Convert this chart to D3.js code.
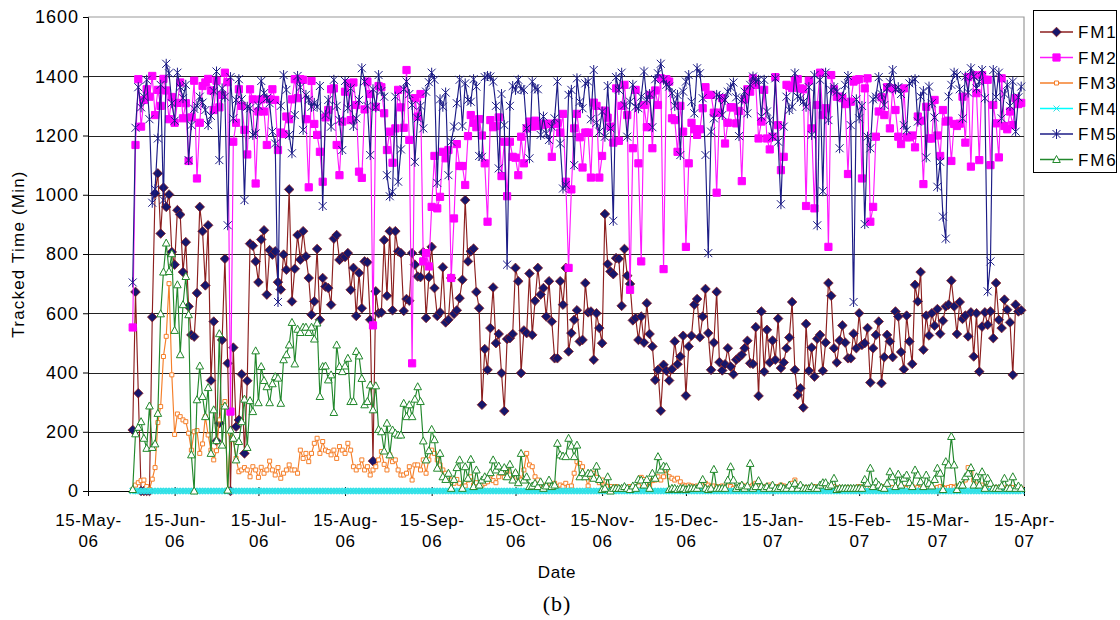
<!DOCTYPE html>
<html>
<head>
<meta charset="utf-8">
<script src="https://cdnjs.cloudflare.com/ajax/libs/d3/7.8.5/d3.min.js"></script>
<style>
body { margin: 0; background: #fff; }
svg { font-family: "Liberation Sans", Arial, sans-serif; }
</style>
</head>
<body>
<div id="chart"></div>
<script>
// one value per day, starting on firstDay
var firstDay = "2006-05-31";
var seriesNames = ["FM1", "FM2", "FM3", "FM4", "FM5", "FM6"];

var fm1 = [
    206,672,330,0,0,0,0,587,1004,1072,
    869,1024,959,1001,807,764,948,933,739,840,
    623,527,521,668,959,877,694,897,373,572,
    169,229,510,784,431,0,484,217,240,394,
    127,372,835,828,775,705,849,880,663,813,
    798,809,705,680,798,747,1018,640,750,864,
    781,877,792,719,595,640,817,578,719,690,
    685,629,852,864,780,790,790,803,679,753,
    591,736,617,775,772,578,101,674,600,603,
    847,659,877,610,877,809,803,608,648,642,
    803,764,724,722,806,584,722,824,685,591,
    603,755,569,578,719,598,610,651,713,982,
    775,809,818,672,617,291,479,409,550,687,
    499,530,398,270,513,516,530,753,708,398,
    542,533,734,527,642,753,663,685,589,708,
    572,448,448,708,629,753,471,533,578,610,
    505,510,702,603,606,443,600,550,499,935,
    766,741,732,786,784,625,817,727,699,576,
    584,510,589,501,634,530,488,375,409,271,
    426,406,373,411,505,428,454,524,322,488,
    524,629,648,519,589,682,533,409,501,672,
    435,407,428,482,420,394,443,451,460,482,
    507,431,429,553,321,606,403,544,434,508,
    443,582,415,434,482,518,638,409,324,347,
    282,564,406,484,386,514,527,406,501,702,
    659,482,434,508,559,501,448,448,531,482,
    600,493,499,550,366,482,527,572,364,452,
    527,505,452,606,589,469,411,592,505,429,
    696,640,739,477,592,525,600,558,614,531,
    575,623,629,710,623,530,638,581,592,522,
    603,454,600,403,555,603,561,606,516,702,
    578,550,646,612,569,392,629,606,610
];

var fm2 = [
    552,1168,1390,1230,1320,1356,1331,1401,1269,1354,
    1300,1391,1352,1255,1330,1243,1310,1379,1258,1309,
    1114,1261,1385,1055,1243,1367,1379,1391,1352,1286,
    1385,1295,1337,1412,1380,268,1179,1243,1356,1300,
    1219,1136,1356,1322,1038,1281,1322,1281,1168,1322,
    1356,1320,1151,1210,1205,1264,1255,1322,1390,1326,
    1390,1388,1255,1025,1384,1239,1202,1145,1044,1261,
    1286,1356,1359,1168,1066,1247,1348,1376,1252,1379,
    1303,1078,1057,1288,1382,1340,559,1297,1367,1363,
    1275,1151,1213,1108,1224,1354,1295,1226,1421,1185,
    431,1326,1264,1340,775,803,758,959,1131,954,
    993,1145,1123,1151,719,920,1171,1097,1097,1033,
    1198,1269,1243,1228,1255,1200,1106,909,1252,1228,
    1232,1261,1063,1179,995,1179,1128,1125,1066,1196,
    1106,1224,1247,1230,1250,1232,1240,1235,1239,1240,
    1128,1239,1243,1210,1273,1044,753,1018,1224,1273,
    1194,1092,1210,1210,1058,1311,1300,1058,1131,1284,
    1260,1230,1176,1359,1182,1300,1371,1269,679,1157,
    1354,1106,775,1303,1228,1337,1157,1352,1303,1393,
    749,1390,1382,1258,1252,1145,1300,1213,824,1106,
    1243,1221,1202,1221,1292,1363,1337,1337,1277,1007,
    1277,1326,1173,1243,1295,1295,1241,1283,1046,1322,
    1356,1348,1393,1371,1190,1247,1354,1190,1153,1196,
    1397,1235,1083,1128,1371,1367,1360,1385,1390,1359,
    1356,962,1385,1224,954,1303,1412,1269,1292,824,
    1404,1356,1331,1331,1326,1306,1070,1314,1382,1388,
    1390,1055,1359,1393,909,959,1196,1281,1329,1269,
    1363,1224,1359,1286,1196,1171,1359,1194,1194,1200,
    1160,1264,1250,1036,1297,1190,1190,1320,1200,1131,
    1286,1247,1250,1114,1239,1232,1240,1331,1176,1397,
    1095,1404,1343,1117,1404,1388,1388,1100,1303,1241,
    1126,1393,1232,1221,1281,1235,1326,1306,1310
];

var fm3 = [
    5,20,28,35,37,15,5,40,79,231,
    285,454,522,700,392,191,260,251,240,234,
    195,138,200,204,127,159,251,189,138,105,
    136,240,285,302,3,195,173,110,65,71,
    79,71,48,82,71,46,80,60,71,101,
    71,54,79,43,60,71,88,71,71,60,
    138,110,127,99,127,161,178,127,167,138,
    133,122,138,110,150,138,127,161,138,82,
    71,82,105,71,82,54,71,82,105,133,
    90,71,122,99,105,71,54,54,60,82,
    37,88,88,71,105,60,105,138,127,105,
    88,71,60,48,37,26,39,26,15,17,
    37,48,20,28,17,20,26,31,54,35,
    28,48,60,46,71,54,37,60,46,37,
    71,127,88,82,48,37,15,17,20,9,
    15,26,15,20,15,26,15,17,60,99,
    93,82,46,17,60,60,46,28,37,20,
    15,15,9,15,9,9,9,9,15,12,
    9,17,46,39,9,20,35,37,48,37,
    48,71,48,43,37,43,31,20,17,20,
    17,15,17,15,20,26,20,15,17,15,
    12,17,9,17,15,9,12,15,20,17,
    12,15,20,26,17,15,12,17,20,15,
    12,15,20,17,12,15,26,37,17,12,
    9,12,9,12,15,9,12,15,12,9,
    12,15,9,12,9,9,12,9,9,12,
    15,9,12,15,9,12,9,12,9,15,
    12,9,12,9,12,15,12,9,12,15,
    9,12,9,12,9,15,12,9,12,15,
    12,9,12,15,12,17,15,20,37,79,
    60,37,20,17,20,12,15,12,9,12,
    9,12,9,12,9,12,9,12,9
];

var fm4 = [
    0,0,0,0,0,0,0,0,0,0, 0,0,0,0,0,0,0,0,0,0, 0,0,0,0,0,0,0,0,0,0,
    0,0,0,0,0,0,0,0,0,0, 0,0,0,0,0,0,0,0,0,0, 0,0,0,0,0,0,0,0,0,0,
    0,0,0,0,0,0,0,0,0,0, 0,0,0,0,0,0,0,0,0,0, 0,0,0,0,0,0,0,0,0,0,
    0,0,0,0,0,0,0,0,0,0, 0,0,0,0,0,0,0,0,0,0, 0,0,0,0,0,0,0,0,0,0,
    0,0,0,0,0,0,0,0,0,0, 0,0,0,0,0,0,0,0,0,0, 0,0,0,0,0,0,0,0,0,0,
    0,0,0,0,0,0,0,0,0,0, 0,0,0,0,0,0,0,0,0,0, 0,0,0,0,0,0,0,0,0,0,
    0,0,0,0,0,0,0,0,0,0, 0,0,0,0,0,0,0,0,0,0, 0,0,0,0,0,0,0,0,0,0,
    0,0,0,0,0,0,0,0,0,0, 0,0,0,0,0,0,0,0,0,0, 0,0,0,0,0,0,0,0,0,0,
    0,0,0,0,0,0,0,0,0,0, 0,0,0,0,0,0,0,0,0,0, 0,0,0,0,0,0,0,0,0,0,
    0,0,0,0,0,0,0,0,0,0, 0,0,0,0,0,0,0,0,0,0, 0,0,0,0,0,0,0,0,0,0,
    0,0,0,0,0,0,0,0,0,0, 0,0,0,0,0,0,0,0,0
];

var fm5 = [
    704,1226,1363,1295,1331,1388,1255,973,1019,1190,
    1371,982,1442,1410,1309,1250,1412,1363,1326,1371,
    1117,1235,1290,1300,1331,1311,1286,1235,1266,1350,
    1416,1117,1359,1331,897,1397,1258,1320,1390,1322,
    982,1297,1292,1202,1207,1300,1384,1343,1326,1309,
    1213,1173,638,1300,1404,1354,1202,1140,1269,1401,
    1363,1219,1337,1320,1297,1310,1297,1367,962,1269,
    1320,1230,1388,1300,1252,1151,1384,1292,1359,1232,
    1258,1320,1427,1382,1300,1134,1356,1295,1404,1350,
    1331,1066,995,1010,1331,1044,1153,1356,1382,1340,
    1303,1111,1258,1300,1224,1348,1380,1412,1388,1040,
    1322,1297,1345,1066,1179,1230,1309,1388,1232,1376,
    1320,1314,1390,1365,1131,1128,1397,1401,1399,1382,
    1300,1089,1340,1235,764,1300,1367,1354,1388,1356,
    1354,1224,1123,1382,1359,1356,1202,1264,1207,1185,
    1230,1258,1382,1173,1021,1033,1337,1354,1100,1393,
    1314,1292,1376,1382,1255,1421,1243,1213,1281,1196,
    1367,1224,912,1397,1354,1412,1303,1196,1314,1371,
    1297,1292,1331,1416,1320,1340,1228,1390,1410,1442,
    1388,1371,1365,1343,1300,1337,1134,1348,1382,1404,
    1314,1275,1427,1410,1326,1134,803,1213,1258,1337,
    1331,1269,1320,1348,1363,1379,1329,1198,1320,1348,
    1275,1371,1399,1382,1388,1264,1388,1281,1252,1196,
    1393,1179,968,1230,1331,1286,1297,1410,1331,1326,
    1314,1297,1363,1202,1404,897,1388,1012,1412,1252,
    1354,1363,1348,1157,1331,1371,1401,1235,638,1322,
    1258,1300,901,1196,1157,1322,1331,1397,1340,1303,
    1359,1380,1421,1356,1363,1340,1235,1218,1376,1382,
    1390,1247,1331,1350,1126,1365,1309,1261,1027,1111,
    926,852,1331,1371,1412,1404,1356,1258,1399,1345,
    1427,1399,1359,1382,1421,1326,674,775,1421,1330,
    1412,1258,1340,1371,1300,1382,1213,1329,1365
];

var fm6 = [
    5,193,215,234,178,144,287,147,159,262,
    598,739,837,741,801,542,696,460,629,724,
    595,122,0,308,422,319,251,349,127,274,
    170,531,155,287,3,206,178,105,167,234,
    310,147,305,268,473,298,420,373,352,298,
    362,386,381,296,443,460,493,569,429,546,
    535,553,553,535,553,513,567,319,420,422,
    375,392,265,493,420,403,422,448,302,302,
    471,456,380,291,302,358,274,355,208,200,
    135,229,122,206,195,189,189,296,251,291,
    251,310,352,302,169,105,136,208,173,77,
    127,48,39,60,9,39,79,105,9,82,
    43,107,15,71,20,37,48,43,62,105,
    71,84,65,79,48,90,37,62,28,127,
    37,48,15,17,26,15,31,9,17,37,
    15,20,161,122,118,116,178,152,116,155,
    48,62,48,60,60,43,84,39,5,9,
    48,0,9,9,9,9,15,9,5,17,
    9,39,37,20,39,9,60,43,116,71,
    84,82,5,9,9,5,9,9,5,9,
    9,9,9,20,39,9,5,9,73,9,
    9,9,9,37,82,37,9,15,20,9,
    17,93,9,15,35,15,9,15,9,20,
    9,9,15,9,9,20,9,26,9,20,
    9,9,9,15,9,9,20,28,28,15,
    20,43,5,9,9,9,9,9,9,9,
    9,9,39,26,77,15,31,20,12,9,
    26,65,48,15,57,20,43,54,28,15,
    71,54,31,15,54,26,17,39,77,60,
    5,99,88,184,88,5,20,20,48,60,
    79,20,48,20,65,9,43,26,9,9,
    9,17,43,9,9,48,9,17,9
];

var tickLabels = ["15-May-06", "15-Jun-06", "15-Jul-06", "15-Aug-06", "15-Sep-06", "15-Oct-06",
    "15-Nov-06", "15-Dec-06", "15-Jan-07", "15-Feb-07", "15-Mar-07", "15-Apr-07"];
var yTicks = [0, 200, 400, 600, 800, 1000, 1200, 1400, 1600];

var width = 1120, height = 620;
var margin = {top: 17, right: 96, bottom: 129, left: 88};
var plotW = width - margin.left - margin.right;
var plotH = height - margin.top - margin.bottom;

var parseDay = d3.timeParse("%Y-%m-%d");
var parseTick = d3.timeParse("%d-%b-%y");
var start = parseDay(firstDay);
var tickDates = tickLabels.map(parseTick);

var series = [
    {name: "FM1", values: fm1, line: "#8c1f1f", marker: "diamond", fill: "#16166b", stroke: "#8c1f1f", sw: 0.8},
    {name: "FM2", values: fm2, line: "#ff1aff", marker: "square", fill: "#ff00ff", stroke: "#ff00ff", sw: 1},
    {name: "FM3", values: fm3, line: "#f57f2a", marker: "box", fill: "#fff", stroke: "#f57f2a", sw: 1},
    {name: "FM4", values: fm4, line: "#00ffff", marker: "cross", fill: "none", stroke: "#33e0e6", sw: 1.6},
    {name: "FM5", values: fm5, line: "#1c1c86", marker: "star", fill: "none", stroke: "#1c1c86", sw: 1},
    {name: "FM6", values: fm6, line: "#22882c", marker: "triangle", fill: "#fff", stroke: "#22882c", sw: 1}
];

function markerPath(type) {
    switch (type) {
        case "diamond": return "M0,-4.8L4.8,0L0,4.8L-4.8,0Z";
        case "square": return "M-3.6,-3.6H3.6V3.6H-3.6Z";
        case "box": return "M-2,-2H2V2H-2Z";
        case "cross": return "M-3,-3L3,3M-3,3L3,-3";
        case "star": return "M-4,-4L4,4M-4,4L4,-4M0,-5L0,5";
        case "triangle": return "M0,-4L3.8,3H-3.8Z";
    }
}

var x = d3.scaleTime()
    .domain([tickDates[0], tickDates[tickDates.length - 1]])
    .range([margin.left, margin.left + plotW]);
var y = d3.scaleLinear()
    .domain([0, 1600])
    .range([margin.top + plotH, margin.top]);

var svg = d3.select("#chart")
    .append("svg")
    .attr("width", width)
    .attr("height", height);

svg.append("rect")
    .attr("width", width)
    .attr("height", height)
    .attr("fill", "#fff");

// plot frame (top and right edges are grey)
svg.append("path")
    .attr("d", "M" + x.range()[0] + "," + y(1600) + "H" + x.range()[1] + "V" + y(0))
    .attr("fill", "none")
    .attr("stroke", "#9a9a9a")
    .attr("stroke-width", 1.2);

// gridlines
svg.append("g")
    .selectAll("line")
    .data(yTicks.filter(function(d) { return d > 0 && d < 1600; }))
    .enter().append("line")
    .attr("x1", x.range()[0])
    .attr("x2", x.range()[1])
    .attr("y1", function(d) { return Math.round(y(d)) + 0.5; })
    .attr("y2", function(d) { return Math.round(y(d)) + 0.5; })
    .attr("stroke", "#222")
    .attr("stroke-width", 1);

// y axis
var yAxis = d3.axisLeft(y).tickValues(yTicks).tickSize(5).tickPadding(4).tickFormat(d3.format("d"));
var gY = svg.append("g")
    .attr("transform", "translate(" + margin.left + ",0)")
    .call(yAxis);
gY.select(".domain").attr("stroke", "#000");
gY.selectAll("line").attr("stroke", "#000");
gY.selectAll("text")
    .attr("font-size", 18)
    .attr("letter-spacing", 1)
    .attr("fill", "#000");

// x axis, ticks crossing the baseline
var xAxis = d3.axisBottom(x).tickValues(tickDates).tickSize(5).tickFormat("");
var gX = svg.append("g")
    .attr("transform", "translate(0," + (margin.top + plotH) + ")")
    .call(xAxis);
gX.select(".domain").attr("stroke", "#000");
gX.selectAll(".tick line").attr("y1", -4).attr("stroke", "#000");
gX.selectAll(".tick").append("text")
    .attr("fill", "#000")
    .attr("font-size", 17)
    .attr("letter-spacing", 0.6)
    .attr("text-anchor", "middle")
    .each(function(d, i) {
        var parts = tickLabels[i].split("-");
        var t = d3.select(this);
        t.append("tspan").attr("x", 0).attr("y", 35).text(parts[0] + "-" + parts[1] + "-");
        t.append("tspan").attr("x", 0).attr("y", 56).text(parts[2]);
    });

// series drawn over the axes, FM1 first, FM6 last
var line = d3.line()
    .x(function(d, i) { return x(d3.timeDay.offset(start, i)); })
    .y(function(d) { return y(d); });

series.forEach(function(s) {
    var g = svg.append("g").attr("class", "series");
    g.append("path")
        .datum(s.values)
        .attr("fill", "none")
        .attr("stroke", s.line)
        .attr("stroke-width", s.marker == "cross" ? 3 : 1.15)
        .attr("d", line);
    g.selectAll(".m")
        .data(s.values)
        .enter().append("path")
        .attr("class", "m")
        .attr("transform", function(d, i) {
            return "translate(" + x(d3.timeDay.offset(start, i)) + "," + y(d) + ")";
        })
        .attr("d", markerPath(s.marker))
        .attr("fill", s.fill)
        .attr("stroke", s.stroke)
        .attr("stroke-width", s.sw);
});

// axis titles
svg.append("text")
    .attr("transform", "translate(24," + (margin.top + plotH / 2) + ") rotate(-90)")
    .attr("text-anchor", "middle")
    .attr("font-size", 17)
    .attr("letter-spacing", 1.2)
    .text("Tracked Time (Min)");

svg.append("text")
    .attr("x", 557)
    .attr("y", 578)
    .attr("text-anchor", "middle")
    .attr("font-size", 17)
    .attr("letter-spacing", 0.6)
    .text("Date");

svg.append("text")
    .attr("x", 557)
    .attr("y", 611)
    .attr("text-anchor", "middle")
    .attr("font-family", "'Liberation Serif', 'Times New Roman', serif")
    .attr("font-size", 22)
    .attr("letter-spacing", 1)
    .text("(b)");

// legend
var legend = svg.append("g").attr("transform", "translate(1033,10)");
legend.append("rect")
    .attr("x", 0.5)
    .attr("y", 0.5)
    .attr("width", 83)
    .attr("height", 162)
    .attr("fill", "#fff")
    .attr("stroke", "#000");

var item = legend.selectAll(".item")
    .data(series)
    .enter().append("g")
    .attr("class", "item")
    .attr("transform", function(d, i) { return "translate(0," + (22 + i * 25.5) + ")"; });
item.append("line")
    .attr("x1", 7)
    .attr("x2", 40)
    .attr("stroke", function(d) { return d.line; })
    .attr("stroke-width", 1.3);
item.append("path")
    .attr("transform", "translate(23.5,0)")
    .attr("d", function(d) { return markerPath(d.marker); })
    .attr("fill", function(d) { return d.fill; })
    .attr("stroke", function(d) { return d.stroke; })
    .attr("stroke-width", function(d) { return d.marker == "cross" ? 1 : d.sw; });
item.append("text")
    .attr("x", 45)
    .attr("y", 6)
    .attr("font-size", 17)
    .attr("letter-spacing", 1.8)
    .text(function(d) { return d.name; });
</script>
</body>
</html>
